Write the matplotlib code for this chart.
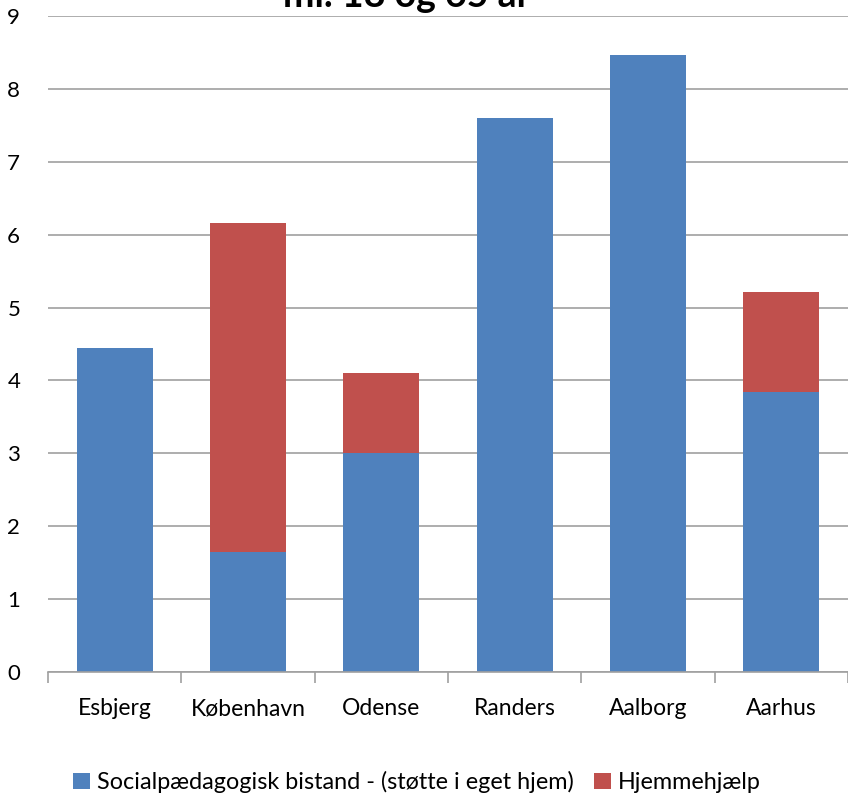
import numpy as np
import matplotlib.pyplot as plt

plt.rcParams['font.family'] = ['Lato', 'DejaVu Sans']

byer = ["Esbjerg", "København", "Odense", "Randers", "Aalborg", "Aarhus"]
socialpaed = [4.44, 1.65, 3.0, 7.6, 8.46, 3.84]
hjemmehjaelp = [0, 4.51, 1.10, 0, 0, 1.37]
serie_navne = ["Socialpædagogisk bistand - (støtte i eget hjem)", "Hjemmehjælp"]

blaa = "#4F81BD"
roed = "#C0504D"

fig = plt.figure(figsize=(8.48, 7.98), dpi=100)
ax = fig.add_axes([48/848, 1 - 672/798, 1 - 48/848, (672 - 16)/798])

x = np.arange(len(byer))
ax.bar(x, socialpaed, width=0.57, color=blaa, label=serie_navne[0], zorder=2)
ax.bar(x, hjemmehjaelp, width=0.57, bottom=socialpaed, color=roed, label=serie_navne[1], zorder=2)

ax.set_ylim(0, 9)
ax.set_xlim(-0.5, len(byer) - 0.5)
ax.set_yticks(range(10))
ax.yaxis.grid(True, color="#A0A0A0", linewidth=1.2, zorder=0)
ax.tick_params(axis="y", length=0, pad=20, labelsize=16)
ax.set_xticks(x)
ax.set_xticklabels(byer)
ax.tick_params(axis="x", length=0, pad=19, labelsize=16.5)
ax.set_xticks(np.arange(-0.5, len(byer)), minor=True)
ax.tick_params(axis="x", which="minor", length=8, color="#A0A0A0", width=1.2)

for s in ["top", "right", "left"]:
    ax.spines[s].set_visible(False)
ax.spines["bottom"].set_color("#A0A0A0")
ax.spines["bottom"].set_linewidth(1.2)

fig.text(407/848, 1 - 7/798, "ml. 18 og 65 år", fontsize=27, fontweight="bold",
         ha="center", va="baseline")

fig.legend(loc="center", bbox_to_anchor=(417/848, 1 - 782/798), ncol=2, frameon=False,
           fontsize=16.8, handlelength=0.7, handleheight=0.7, handletextpad=0.3,
           columnspacing=0.9)

fig.savefig("out.png", dpi=100)
